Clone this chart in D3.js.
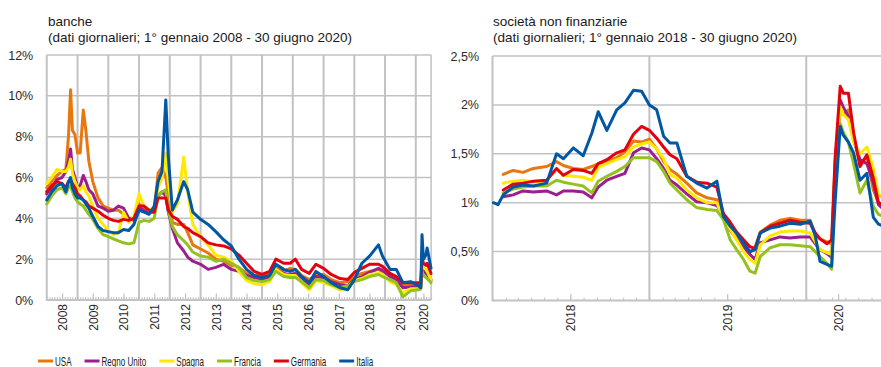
<!DOCTYPE html>
<html><head><meta charset="utf-8">
<script src="https://cdn.jsdelivr.net/npm/d3@7"></script>
<style>
html,body{margin:0;padding:0;background:#fff;}
svg{display:block;font-family:"Liberation Sans",Arial,sans-serif;}
.title{font-size:13.5px;fill:#1a1a1a;}
.tlab{font-size:12.5px;fill:#2a2a2a;font-family:"Liberation Sans",Arial,sans-serif;}
.xlab{font-size:12px;fill:#2a2a2a;font-family:"Liberation Sans",Arial,sans-serif;}
.leg{font-size:13px;fill:#1a1a1a;}
</style></head><body>
<svg id="chart" width="881" height="367"></svg>
<script>
// ---------- DATA ----------
const seriesNames = ["USA","Regno Unito","Spagna","Francia","Germania","Italia"];

// Left panel: banks (daily data, sampled)
const bankDates = ["2008-01-01","2008-03-01","2008-05-01","2008-07-01","2008-08-15","2008-09-15","2008-10-10","2008-11-01","2008-12-01",
 "2009-01-01","2009-02-01","2009-03-10","2009-04-10","2009-05-15","2009-07-01","2009-09-01","2009-11-01",
 "2010-01-01","2010-03-01","2010-05-01","2010-07-01","2010-09-01","2010-11-01",
 "2011-01-01","2011-03-01","2011-05-01","2011-07-01","2011-08-15","2011-10-01","2011-11-15","2011-12-15",
 "2012-02-01","2012-04-01","2012-06-15","2012-08-01","2012-10-01",
 "2013-01-01","2013-04-01","2013-07-01","2013-10-01",
 "2014-01-01","2014-04-01","2014-07-01","2014-10-01",
 "2015-01-01","2015-04-01","2015-06-15","2015-09-15","2015-12-01",
 "2016-02-01","2016-04-15","2016-07-15","2016-10-01",
 "2017-01-01","2017-04-01","2017-07-15","2017-10-15",
 "2018-01-01","2018-04-01","2018-07-01","2018-10-15","2018-12-01",
 "2019-03-01","2019-05-15","2019-08-01","2019-11-01",
 "2020-02-01","2020-03-01","2020-03-15","2020-04-01","2020-05-01","2020-05-15","2020-06-30"];
const bankUSA = [5.5,5.8,6.1,6.3,6.4,8.0,10.3,8.3,8.1,7.2,7.2,9.3,8.3,6.8,5.8,5.0,4.6,4.5,4.4,4.4,4.2,4.0,4.0,4.7,4.5,4.3,4.4,6.2,6.5,6.0,5.2,3.8,3.7,3.7,3.3,2.7,2.5,2.3,2.0,1.9,1.7,1.6,1.3,1.2,1.2,1.3,1.6,1.4,1.55,1.5,1.2,1.0,1.2,1.25,1.0,0.85,0.9,1.15,1.3,1.4,1.5,1.4,1.25,1.1,0.75,0.8,0.75,0.8,1.7,1.4,1.3,1.3,0.95];
const bankUK  = [5.2,5.5,5.9,6.0,6.3,6.8,7.4,6.4,6.0,5.5,5.6,6.1,5.8,5.4,5.2,4.6,4.5,4.35,4.4,4.6,4.5,4.0,3.9,4.5,4.4,4.3,4.3,5.1,5.3,5.1,4.3,3.5,2.8,2.4,2.1,1.9,1.75,1.5,1.6,1.75,1.5,1.4,1.2,1.1,1.0,1.1,1.5,1.3,1.25,1.3,1.1,0.75,1.15,1.1,0.9,0.75,0.7,1.0,1.15,1.35,1.55,1.45,1.15,1.0,0.6,0.65,0.65,0.7,1.6,1.4,1.3,1.25,1.0];
const bankES  = [5.7,6.0,6.4,6.3,6.3,6.5,6.9,6.2,5.8,5.5,5.4,5.6,5.3,5.1,4.6,4.0,3.7,3.4,3.2,3.3,4.3,3.8,4.1,5.2,4.6,4.4,4.5,5.5,6.0,7.2,5.8,4.3,4.7,7.0,5.3,3.7,3.1,2.7,2.2,2.1,1.9,1.4,0.95,0.8,0.75,0.9,1.5,1.25,1.2,1.2,0.85,0.5,0.95,0.85,0.7,0.5,0.6,0.95,1.05,1.25,1.3,1.25,0.9,0.75,0.35,0.55,0.55,0.6,1.8,1.6,1.5,1.4,1.0];
const bankFR  = [4.7,5.1,5.4,5.5,5.2,5.5,5.6,5.3,5.0,4.8,4.7,4.6,4.4,4.2,3.95,3.5,3.2,3.1,3.0,2.9,2.8,2.75,2.8,3.8,3.9,3.85,4.0,5.1,5.3,5.4,4.4,3.6,3.2,2.9,2.7,2.35,2.15,2.1,1.9,2.0,1.8,1.6,1.1,0.95,0.9,1.0,1.4,1.15,1.1,1.1,0.9,0.6,1.0,0.95,0.75,0.6,0.7,0.9,1.0,1.15,1.25,1.15,1.0,0.85,0.15,0.45,0.5,0.55,1.4,1.2,1.1,1.05,0.85];
const bankDE  = [5.3,5.6,5.8,5.7,5.5,5.8,5.9,5.7,5.5,5.2,5.1,4.9,4.8,4.6,4.5,4.35,4.15,4.0,3.9,3.85,3.95,3.9,4.0,4.6,4.6,4.4,4.3,5.0,5.0,5.0,4.4,4.1,3.95,3.6,3.5,3.3,3.1,2.8,2.7,2.65,2.5,2.2,1.8,1.4,1.25,1.4,2.0,1.8,1.8,2.0,1.5,1.3,1.75,1.55,1.25,1.05,1.0,1.35,1.55,1.75,1.75,1.65,1.3,1.15,0.85,0.85,0.85,0.8,2.05,1.8,1.7,1.8,1.3];
const bankIT  = [4.9,5.3,5.6,5.7,5.3,5.8,6.0,5.5,5.2,5.0,5.0,4.9,4.7,4.5,4.1,3.6,3.4,3.35,3.3,3.3,3.45,3.4,3.7,4.4,4.3,4.2,4.6,5.8,6.3,9.8,7.0,4.4,4.9,5.8,5.4,4.3,3.95,3.7,3.35,2.95,2.65,2.0,1.5,1.2,1.1,1.2,1.75,1.5,1.4,1.5,1.15,0.85,1.4,1.15,0.85,0.6,0.5,1.0,1.8,2.15,2.7,2.15,1.5,1.5,0.85,0.9,0.7,0.6,3.2,2.0,2.2,2.55,1.55];

// Right panel: non-financial corporations (daily data, sampled)
const corpDates = ["2018-01-03","2018-01-14","2018-01-26","2018-02-18","2018-03-13","2018-04-06","2018-05-07","2018-05-30","2018-06-15","2018-07-08","2018-07-31","2018-08-20","2018-09-04","2018-09-24","2018-10-17","2018-11-05","2018-11-25","2018-12-14",
 "2019-01-01","2019-01-18","2019-02-03","2019-02-18","2019-03-06","2019-03-29","2019-04-21","2019-05-15","2019-06-07","2019-06-22","2019-07-08","2019-07-23","2019-08-08","2019-08-23","2019-09-04","2019-09-16","2019-10-09","2019-11-01","2019-11-24","2019-12-18",
 "2020-01-10","2020-01-22","2020-02-02","2020-02-18","2020-02-29","2020-03-08","2020-03-20","2020-03-27","2020-04-08","2020-04-20","2020-05-05","2020-05-21","2020-06-05","2020-06-17","2020-06-29"];
const corpUSA = [null,null,1.29,1.33,1.31,1.35,1.37,1.42,1.38,1.35,1.34,1.37,1.40,1.42,1.46,1.52,1.63,1.62,1.65,1.55,1.42,1.34,1.29,1.20,1.10,1.05,1.03,0.86,0.78,0.66,0.58,0.49,0.55,0.70,0.77,0.82,0.84,0.82,0.82,0.68,0.63,0.60,0.58,1.30,1.95,1.90,1.95,1.68,1.40,1.47,1.13,1.00,0.96];
const corpUK  = [null,null,1.06,1.08,1.12,1.11,1.12,1.08,1.12,1.12,1.11,1.05,1.16,1.23,1.27,1.30,1.51,1.56,1.54,1.45,1.35,1.23,1.18,1.09,1.01,1.00,0.97,0.89,0.72,0.63,0.55,0.47,0.42,0.59,0.62,0.65,0.64,0.65,0.65,0.58,0.52,0.48,0.44,1.40,2.05,1.98,1.88,1.64,1.44,1.40,1.20,0.98,0.93];
const corpES  = [null,null,1.20,1.22,1.23,1.21,1.23,1.34,1.28,1.27,1.26,1.23,1.36,1.40,1.44,1.47,1.57,1.60,1.62,1.55,1.45,1.29,1.25,1.13,1.05,1.00,1.00,0.83,0.73,0.62,0.50,0.42,0.38,0.57,0.66,0.70,0.71,0.71,0.69,0.60,0.52,0.49,0.47,1.40,1.98,1.90,1.85,1.62,1.50,1.57,1.35,1.08,1.05];
const corpFR  = [null,null,1.10,1.14,1.16,1.17,1.17,1.23,1.21,1.19,1.17,1.10,1.22,1.27,1.32,1.37,1.46,1.46,1.46,1.42,1.32,1.20,1.13,1.03,0.95,0.93,0.92,0.83,0.62,0.52,0.42,0.30,0.28,0.45,0.54,0.57,0.57,0.56,0.55,0.50,0.45,0.38,0.32,1.25,1.81,1.72,1.62,1.40,1.10,1.23,0.96,0.88,0.86];
const corpDE  = [null,null,1.13,1.19,1.20,1.22,1.23,1.35,1.28,1.34,1.33,1.30,1.40,1.44,1.51,1.54,1.70,1.78,1.74,1.66,1.57,1.49,1.45,1.27,1.21,1.20,1.16,0.89,0.80,0.70,0.62,0.55,0.53,0.69,0.76,0.79,0.82,0.80,0.79,0.69,0.63,0.58,0.62,1.45,2.19,2.12,2.12,1.72,1.37,1.49,1.25,1.00,0.98];
const corpIT  = [1.00,0.98,1.08,1.16,1.18,1.17,1.20,1.50,1.45,1.56,1.48,1.71,1.93,1.74,1.95,2.02,2.15,2.14,2.00,1.95,1.68,1.61,1.61,1.27,1.20,1.15,1.22,0.86,0.76,0.69,0.59,0.50,0.52,0.69,0.74,0.76,0.79,0.78,0.81,0.66,0.40,0.37,0.35,1.00,1.78,1.69,1.62,1.51,1.23,1.30,0.85,0.78,0.76];

// Ticks and labels
const bankYTicks = [0,2,4,6,8,10,12];
const corpYTicks = [0,0.5,1,1.5,2,2.5];
const bankYearLabels = ["2008","2009","2010","2011","2012","2013","2014","2015","2016","2017","2018","2019","2020"];
const bankLabelDates = ["2008-07-01","2009-07-01","2010-07-01","2011-07-01","2012-07-01","2013-07-01","2014-07-01","2015-07-01","2016-07-01","2017-07-01","2018-07-01","2019-07-01","2020-04-01"];
const corpYearLabels = ["2018","2019","2020"];
const corpLabelDates = ["2018-07-01","2019-07-01","2020-03-15"];
const bankTitle = ["banche","(dati giornalieri; 1° gennaio 2008 - 30 giugno 2020)"];
const corpTitle = ["società non finanziarie","(dati giornalieri; 1° gennaio 2018 - 30 giugno 2020)"];

// ---------- STYLE ----------
const colors = ["#E8770E","#9B1F8C","#FFE900","#95C11F","#E3000F","#0057A3"];
const GRID = "#c2c2c2";

const parse = d3.timeParse("%Y-%m-%d");
const svg = d3.select("#chart");
const fmtPct = d => String(d).replace(".", ",") + "%";

function drawPanel(o) {
  const x = d3.scaleTime().domain(o.domain.map(parse)).range([o.left, o.right]);
  const y = d3.scaleLinear().domain([0, o.yMax]).range([o.bottom, o.top]);
  const g = svg.append("g");

  g.append("text").attr("class","title").attr("x", o.titleX).attr("y", 26).text(o.title[0]);
  g.append("text").attr("class","title").attr("x", o.titleX).attr("y", 41.5).text(o.title[1]);

  // horizontal grid
  g.append("g").selectAll("line").data(o.yTicks.filter(d => d > 0)).join("line")
    .attr("x1", o.left).attr("x2", o.gridRight)
    .attr("y1", d => y(d)).attr("y2", d => y(d))
    .attr("stroke", GRID).attr("stroke-width", 1.5);
  // vertical grid at year starts
  const ys = d3.timeYear.range(d3.timeYear.ceil(x.domain()[0]), x.domain()[1]).filter(d => +d > +x.domain()[0]);
  g.append("g").selectAll("line").data(ys).join("line")
    .attr("x1", d => x(d)).attr("x2", d => x(d))
    .attr("y1", o.top).attr("y2", o.bottom)
    .attr("stroke", GRID).attr("stroke-width", 2);
  if (o.rightBorder) {
    g.append("line").attr("x1", o.gridRight).attr("x2", o.gridRight).attr("y1", o.top).attr("y2", o.bottom)
      .attr("stroke", GRID).attr("stroke-width", 1.5);
  }

  // y axis labels
  const ya = g.append("g").attr("transform", `translate(${o.left},0)`)
    .call(d3.axisLeft(y).tickValues(o.yTicks).tickSize(0).tickPadding(13.5).tickFormat(fmtPct));
  ya.select(".domain").remove();
  ya.selectAll("text").attr("class","tlab").attr("fill", null);

  // monthly ticks (inside)
  const mt = g.append("g").attr("transform", `translate(0,${o.bottom})`)
    .call(d3.axisBottom(x).ticks(d3.timeMonth.every(1)).tickSize(-3).tickFormat(""));
  mt.select(".domain").remove();
  mt.selectAll("line").attr("stroke", GRID).attr("stroke-width", 1);
  // taller ticks + year labels
  const la = g.append("g").attr("transform", `translate(0,${o.bottom})`)
    .call(d3.axisBottom(x).tickValues(o.labelDates.map(parse)).tickSize(-6.5)
      .tickFormat((d, i) => o.yearLabels[i]));
  la.select(".domain").remove();
  la.selectAll("line").attr("stroke", GRID).attr("stroke-width", 1.2);
  la.selectAll("text").attr("class","xlab").attr("fill", null)
    .attr("transform","rotate(-90)").attr("x", -4).attr("y", 0).attr("dy","0.36em")
    .attr("text-anchor","end");

  // axis lines
  g.append("line").attr("x1", o.left).attr("x2", o.left).attr("y1", o.top).attr("y2", o.bottom + 1)
    .attr("stroke", GRID).attr("stroke-width", 2);
  g.append("line").attr("x1", o.left).attr("x2", o.gridRight).attr("y1", o.bottom).attr("y2", o.bottom)
    .attr("stroke", GRID).attr("stroke-width", 2.2);

  // series
  const line = d3.line().defined(d => d.v != null)
    .x(d => x(d.date)).y(d => y(d.v));
  const dates = o.dates.map(parse);
  o.series.forEach((vals, i) => {
    const pts = vals.map((v, j) => ({date: dates[j], v}));
    g.append("path").datum(pts).attr("d", line)
      .attr("fill","none").attr("stroke", colors[i]).attr("stroke-width", 3)
      .attr("stroke-linejoin","round").attr("stroke-linecap","round");
  });
}

drawPanel({
  domain: ["2008-01-01","2020-07-01"], left: 46.75, right: 431.1, gridRight: 431.1,
  top: 55, bottom: 300, yMax: 12, yTicks: bankYTicks, titleX: 48, title: bankTitle,
  labelDates: bankLabelDates, yearLabels: bankYearLabels, rightBorder: true,
  dates: bankDates, series: [bankUSA, bankUK, bankES, bankFR, bankDE, bankIT]
});
drawPanel({
  domain: ["2018-01-01","2020-07-01"], left: 492.5, right: 884.5, gridRight: 881,
  top: 56, bottom: 300.5, yMax: 2.5, yTicks: corpYTicks, titleX: 493, title: corpTitle,
  labelDates: corpLabelDates, yearLabels: corpYearLabels, rightBorder: false,
  dates: corpDates, series: [corpUSA, corpUK, corpES, corpFR, corpDE, corpIT]
});

// legend
const leg = svg.append("g");
let lx = 38;
const squeeze = 0.62;
seriesNames.forEach((name, i) => {
  leg.append("line").attr("x1", lx).attr("x2", lx + 15).attr("y1", 361).attr("y2", 361)
    .attr("stroke", colors[i]).attr("stroke-width", 3);
  const t = leg.append("text").attr("class","leg")
    .attr("transform", `translate(${lx + 17},365.5) scale(${squeeze},1)`).text(name);
  const w = t.node().getComputedTextLength() * squeeze;
  lx = lx + 17 + w + 13;
});
</script>
</body></html>
